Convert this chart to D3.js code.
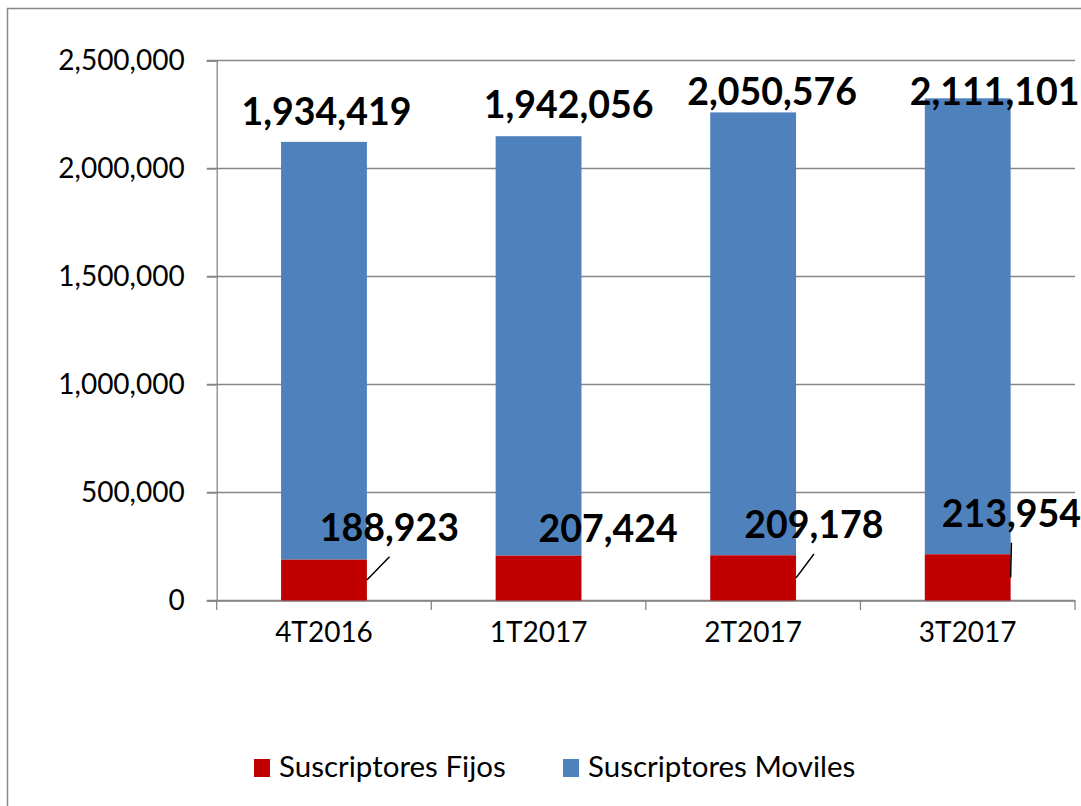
<!DOCTYPE html>
<html>
<head>
<meta charset="utf-8">
<script src="https://cdn.jsdelivr.net/npm/d3@7"></script>
<style>
  body { margin: 0; background: #fff; }
  text { font-family: Lato, "Open Sans", sans-serif; fill: #000; }
</style>
</head>
<body>
<script>
var width = 1081;
var height = 806;

// data
var categories = ["4T2016", "1T2017", "2T2017", "3T2017"];
var fijos = [188923, 207424, 209178, 213954];
var moviles = [1934419, 1942056, 2050576, 2111101];
var yTicks = [0, 500000, 1000000, 1500000, 2000000, 2500000];
var seriesNames = ["Suscriptores Fijos", "Suscriptores Moviles"];
var seriesColors = ["#C00000", "#4F81BD"];

// hand placed label offsets (as in the original sheet)
var movLabelDx = [2.5, 30, 19, 27];
var movLabelDy = [-17, -18, -7.4, 6.7];
var fijLabelDx = [65.5, 69.6, 60.8, 43.7];
var fijLabelDy = [-19, -14, -17.3, -27.6];
var fijLeader = [true, false, true, true];

var svg = d3.select("body")
            .append("svg")
            .attr("width", width)
            .attr("height", height);

// chart border
svg.append("rect")
   .attr("x", 7.5).attr("y", 8.5)
   .attr("width", 1100).attr("height", 820)
   .attr("fill", "none")
   .attr("stroke", "#898989")
   .attr("stroke-width", 1.5);

var y = d3.scaleLinear()
          .domain([0, 2500000])
          .range([600.5, 60.5]);

var x = d3.scaleBand()
          .domain(categories)
          .range([216.7, 1075])
          .paddingInner(0.6)
          .paddingOuter(0.3);

var fmt = d3.format(",");

// gridlines
svg.append("g")
   .selectAll("line")
   .data(yTicks)
   .enter()
   .append("line")
   .attr("x1", 207).attr("x2", 1075)
   .attr("y1", function(d){ return y(d); })
   .attr("y2", function(d){ return y(d); })
   .attr("stroke", "#868686")
   .attr("stroke-width", 1.3);

// y axis
var yAxis = svg.append("g")
               .attr("transform", "translate(216.7,0)")
               .call(d3.axisLeft(y).tickValues(yTicks).tickFormat(fmt).tickSize(10).tickPadding(22));
yAxis.select(".domain").attr("stroke", "#868686").attr("stroke-width", 1.3);
yAxis.selectAll(".tick line").attr("stroke", "#868686").attr("stroke-width", 1.3);
yAxis.selectAll(".tick text")
     .style("font-family", "Lato, sans-serif")
     .style("font-size", "28px")
     .attr("fill", "#000");

// x axis
var xAxis = svg.append("g")
               .attr("transform", "translate(0,600.5)")
               .call(d3.axisBottom(x).tickSize(0).tickPadding(22));
xAxis.select(".domain").attr("stroke", "#868686").attr("stroke-width", 1.3);
xAxis.selectAll(".tick text")
     .style("font-family", "Lato, sans-serif")
     .style("font-size", "28px")
     .attr("fill", "#000");

// category separator ticks
var step = x.step();
var sep = d3.range(categories.length + 1).map(function(i){ return 216.7 + i * step; });
svg.append("g")
   .selectAll("line")
   .data(sep)
   .enter()
   .append("line")
   .attr("x1", function(d){ return d; })
   .attr("x2", function(d){ return d; })
   .attr("y1", 600.5).attr("y2", 610)
   .attr("stroke", "#868686")
   .attr("stroke-width", 1.3);

// bars
var rows = categories.map(function(c, i){
  return { cat: c, fij: fijos[i], mov: moviles[i], i: i };
});

svg.append("g")
   .selectAll("rect")
   .data(rows)
   .enter()
   .append("rect")
   .attr("x", function(d){ return x(d.cat); })
   .attr("width", x.bandwidth())
   .attr("y", function(d){ return y(d.fij + d.mov); })
   .attr("height", function(d){ return y(d.fij) - y(d.fij + d.mov); })
   .attr("fill", seriesColors[1]);

svg.append("g")
   .selectAll("rect")
   .data(rows)
   .enter()
   .append("rect")
   .attr("x", function(d){ return x(d.cat); })
   .attr("width", x.bandwidth())
   .attr("y", function(d){ return y(d.fij); })
   .attr("height", function(d){ return y(0) - y(d.fij); })
   .attr("fill", seriesColors[0]);

// leader lines
svg.append("g")
   .selectAll("line")
   .data(rows.filter(function(d){ return fijLeader[d.i]; }))
   .enter()
   .append("line")
   .attr("x1", function(d){ return x(d.cat) + x.bandwidth(); })
   .attr("y1", function(d){ return (y(0) + y(d.fij)) / 2; })
   .attr("x2", function(d){ return x(d.cat) + x.bandwidth() / 2 + fijLabelDx[d.i]; })
   .attr("y2", function(d){ return y(d.fij) + fijLabelDy[d.i] + 16; })
   .attr("stroke", "#000")
   .attr("stroke-width", 1.5);

// labels
svg.append("g")
   .selectAll("text")
   .data(rows)
   .enter()
   .append("text")
   .attr("x", function(d){ return x(d.cat) + x.bandwidth() / 2 + movLabelDx[d.i]; })
   .attr("y", function(d){ return y(d.fij + d.mov) + movLabelDy[d.i]; })
   .attr("text-anchor", "middle")
   .style("font-size", "37.5px")
   .style("font-weight", "bold")
   .text(function(d){ return fmt(d.mov); });

svg.append("g")
   .selectAll("text")
   .data(rows)
   .enter()
   .append("text")
   .attr("x", function(d){ return x(d.cat) + x.bandwidth() / 2 + fijLabelDx[d.i]; })
   .attr("y", function(d){ return y(d.fij) + fijLabelDy[d.i]; })
   .attr("text-anchor", "middle")
   .style("font-size", "37.5px")
   .style("font-weight", "bold")
   .text(function(d){ return fmt(d.fij); });

// legend
var legendX = [254, 563];
var legend = svg.append("g")
                .selectAll("g")
                .data(seriesNames)
                .enter()
                .append("g")
                .attr("transform", function(d, i){ return "translate(" + legendX[i] + ",759)"; });
legend.append("rect")
      .attr("width", 16).attr("height", 18)
      .attr("fill", function(d, i){ return seriesColors[i]; });
legend.append("text")
      .attr("x", 25).attr("y", 18)
      .style("font-size", "29.5px")
      .text(function(d){ return d; });
</script>
</body>
</html>
